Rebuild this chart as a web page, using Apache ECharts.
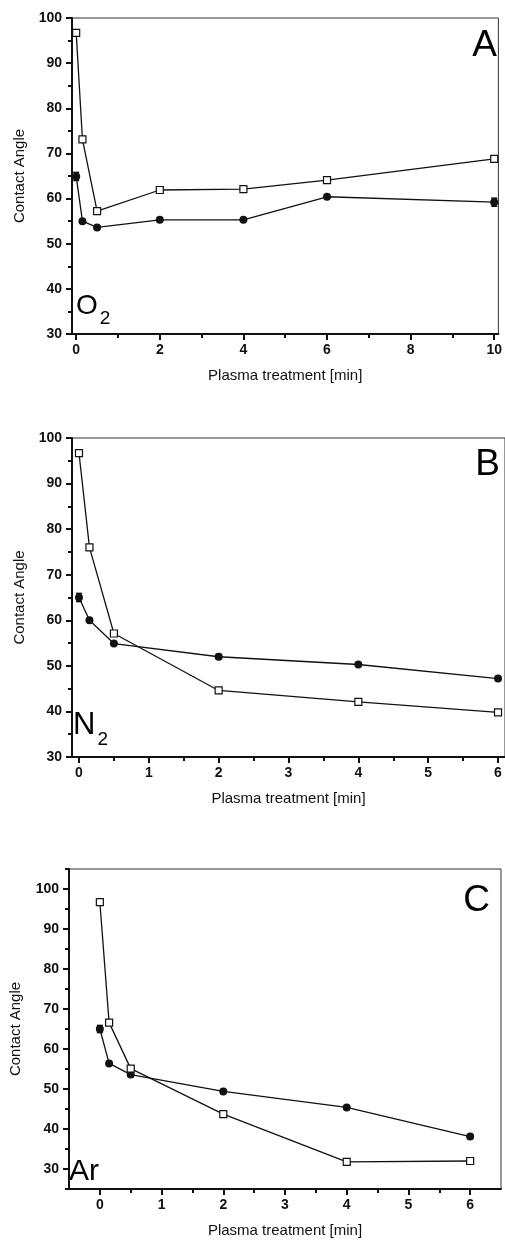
<!DOCTYPE html>
<html>
<head>
<meta charset="utf-8">
<script src="https://cdn.jsdelivr.net/npm/echarts@6/dist/echarts.min.js"></script>
<style>
  html, body { margin: 0; padding: 0; background: #fff; }
  #chart { width: 505px; height: 1243px; }
</style>
</head>
<body>
<div id="chart"></div>
<script>
// ===== data =====
const xA = [0, 0.15, 0.5, 2, 4, 6, 10];
const o2Open = [96.7, 73.1, 57.2, 61.9, 62.1, 64.1, 68.8];
const o2Filled = [64.9, 55.0, 53.6, 55.3, 55.3, 60.4, 59.2];
const o2FilledErr = [0.9, 0, 0, 0, 0, 0, 0.9];

const xB = [0, 0.15, 0.5, 2, 4, 6];
const n2Open = [96.7, 76.0, 57.1, 44.6, 42.1, 39.8];
const n2Filled = [65.0, 60.0, 54.9, 52.0, 50.3, 47.2];
const n2FilledErr = [0.9, 0, 0, 0.5, 0, 0.4];

const xC = [0, 0.15, 0.5, 2, 4, 6];
const arOpen = [96.7, 66.6, 55.1, 43.7, 31.8, 32.0];
const arFilled = [65.0, 56.4, 53.6, 49.4, 45.4, 38.1];
const arFilledErr = [0.9, 0, 0.5, 0, 0, 0.5];

// tick values
const xTicksA = [0, 2, 4, 6, 8, 10];
const xMinorA = [1, 3, 5, 7, 9];
const xTicksBC = [0, 1, 2, 3, 4, 5, 6];
const xMinorBC = [0.5, 1.5, 2.5, 3.5, 4.5, 5.5];
const yTicks = [30, 40, 50, 60, 70, 80, 90, 100];
const yMinorAB = [35, 45, 55, 65, 75, 85, 95];
const yMinorC = [25, 35, 45, 55, 65, 75, 85, 95, 105];

const panels = [
  { x: xA, open: o2Open, filled: o2Filled, err: o2FilledErr, xMin: -0.1, xMax: 10.1, yMin: 30, yMax: 100,
    xTicks: xTicksA, xMinor: xMinorA, yMinor: yMinorAB, grid: { left: 72, top: 18, width: 429, height: 316 } },
  { x: xB, open: n2Open, filled: n2Filled, err: n2FilledErr, xMin: -0.1, xMax: 6.1, yMin: 30, yMax: 100,
    xTicks: xTicksBC, xMinor: xMinorBC, yMinor: yMinorAB, grid: { left: 72, top: 438, width: 434, height: 319 } },
  { x: xC, open: arOpen, filled: arFilled, err: arFilledErr, xMin: -0.5, xMax: 6.5, yMin: 25, yMax: 105,
    xTicks: xTicksBC, xMinor: xMinorBC, yMinor: yMinorC, grid: { left: 68, top: 869, width: 433, height: 320 } },
];

const FONT = '"Liberation Sans", Arial, sans-serif';
const grids = [], xAxes = [], yAxes = [], series = [];

panels.forEach((p, i) => {
  grids.push(Object.assign({ show: true, borderColor: '#333', borderWidth: 1, backgroundColor: 'transparent' }, p.grid));

  // main axes
  xAxes.push({
    type: 'value', gridIndex: i, min: p.xMin, max: p.xMax,
    name: 'Plasma treatment [min]', nameLocation: 'middle', nameGap: 34,
    nameTextStyle: { color: '#111', fontSize: 15, fontFamily: FONT },
    axisLine: { onZero: false, lineStyle: { color: '#111', width: 2 } },
    axisTick: { customValues: p.xTicks, length: 6, inside: false, lineStyle: { color: '#111', width: 2 } },
    axisLabel: { customValues: p.xTicks, color: '#111', fontSize: 14, fontWeight: 'bold', fontFamily: FONT, margin: 9 },
    splitLine: { show: false },
  });
  yAxes.push({
    type: 'value', gridIndex: i, min: p.yMin, max: p.yMax,
    name: 'Contact Angle', nameLocation: 'middle', nameGap: i === 2 ? 46 : 45, nameRotate: 90,
    nameTextStyle: { color: '#111', fontSize: 15, fontFamily: FONT },
    axisLine: { onZero: false, lineStyle: { color: '#111', width: 2 } },
    axisTick: { customValues: yTicks, length: 6, lineStyle: { color: '#111', width: 2 } },
    axisLabel: { customValues: yTicks, color: '#111', fontSize: 14, fontWeight: 'bold', fontFamily: FONT, margin: 10 },
    splitLine: { show: false },
  });
  // minor tick axes
  xAxes.push({
    type: 'value', gridIndex: i, min: p.xMin, max: p.xMax, position: 'bottom',
    axisLine: { show: false, onZero: false },
    axisTick: { customValues: p.xMinor, length: 4, lineStyle: { color: '#111', width: 2 } },
    axisLabel: { show: false }, splitLine: { show: false },
  });
  yAxes.push({
    type: 'value', gridIndex: i, min: p.yMin, max: p.yMax, position: 'left',
    axisLine: { show: false, onZero: false },
    axisTick: { customValues: p.yMinor, length: 4, lineStyle: { color: '#111', width: 2 } },
    axisLabel: { show: false }, splitLine: { show: false },
  });

  const xi = i * 2, yi = i * 2;
  series.push({
    type: 'custom', xAxisIndex: xi, yAxisIndex: yi, z: 3,
    data: p.x.map((x, k) => [x, p.filled[k] - p.err[k], p.filled[k] + p.err[k]]).filter((d, k) => p.err[k] > 0),
    renderItem: (params, api) => {
      const lo = api.coord([api.value(0), api.value(1)]);
      const hi = api.coord([api.value(0), api.value(2)]);
      const w = 3;
      const st = { stroke: '#111', lineWidth: 1.5 };
      return { type: 'group', children: [
        { type: 'line', shape: { x1: lo[0], y1: lo[1], x2: hi[0], y2: hi[1] }, style: st },
        { type: 'line', shape: { x1: lo[0] - w, y1: lo[1], x2: lo[0] + w, y2: lo[1] }, style: st },
        { type: 'line', shape: { x1: hi[0] - w, y1: hi[1], x2: hi[0] + w, y2: hi[1] }, style: st },
      ]};
    },
  });
  series.push({
    type: 'line', xAxisIndex: xi, yAxisIndex: yi, z: 4,
    data: p.x.map((x, k) => [x, p.filled[k]]),
    symbol: 'circle', symbolSize: 8,
    lineStyle: { color: '#111', width: 1.3 },
    itemStyle: { color: '#111', borderColor: '#111', borderWidth: 0 },
  });
  series.push({
    type: 'line', xAxisIndex: xi, yAxisIndex: yi, z: 5,
    data: p.x.map((x, k) => [x, p.open[k]]),
    symbol: 'rect', symbolSize: 7,
    lineStyle: { color: '#111', width: 1.3 },
    itemStyle: { color: '#fff', borderColor: '#111', borderWidth: 1.2 },
  });
});

const big = { fontSize: 37, fontFamily: FONT, fill: '#000' };
const gasStyle = (size) => ({
  a: { fontSize: size, fontFamily: FONT, color: '#000', lineHeight: size + 6, verticalAlign: 'bottom', padding: [0, 0, 8, 0] },
  s: { fontSize: 19, fontFamily: FONT, color: '#000', lineHeight: 19, verticalAlign: 'bottom', padding: [0, 0, 0, 2] },
});

const chart = echarts.init(document.getElementById('chart'), null, { renderer: 'canvas' });
chart.setOption({
  backgroundColor: '#fff',
  animation: false,
  grid: grids,
  xAxis: xAxes,
  yAxis: yAxes,
  series: series,
  graphic: [
    { type: 'text', right: 8, top: 27, style: Object.assign({ text: 'A' }, big) },
    { type: 'text', right: 5, top: 446, style: Object.assign({ text: 'B' }, big) },
    { type: 'text', right: 15, top: 882, style: Object.assign({ text: 'C' }, big) },
    { type: 'text', left: 76, top: 292, style: { text: '{a|O}{s|2}', rich: gasStyle(28) } },
    { type: 'text', left: 73, top: 710, style: { text: '{a|N}{s|2}', rich: gasStyle(31) } },
    { type: 'text', left: 69, top: 1157, style: { text: '{a|Ar}', rich: gasStyle(30) } },
  ],
});
</script>
</body>
</html>
